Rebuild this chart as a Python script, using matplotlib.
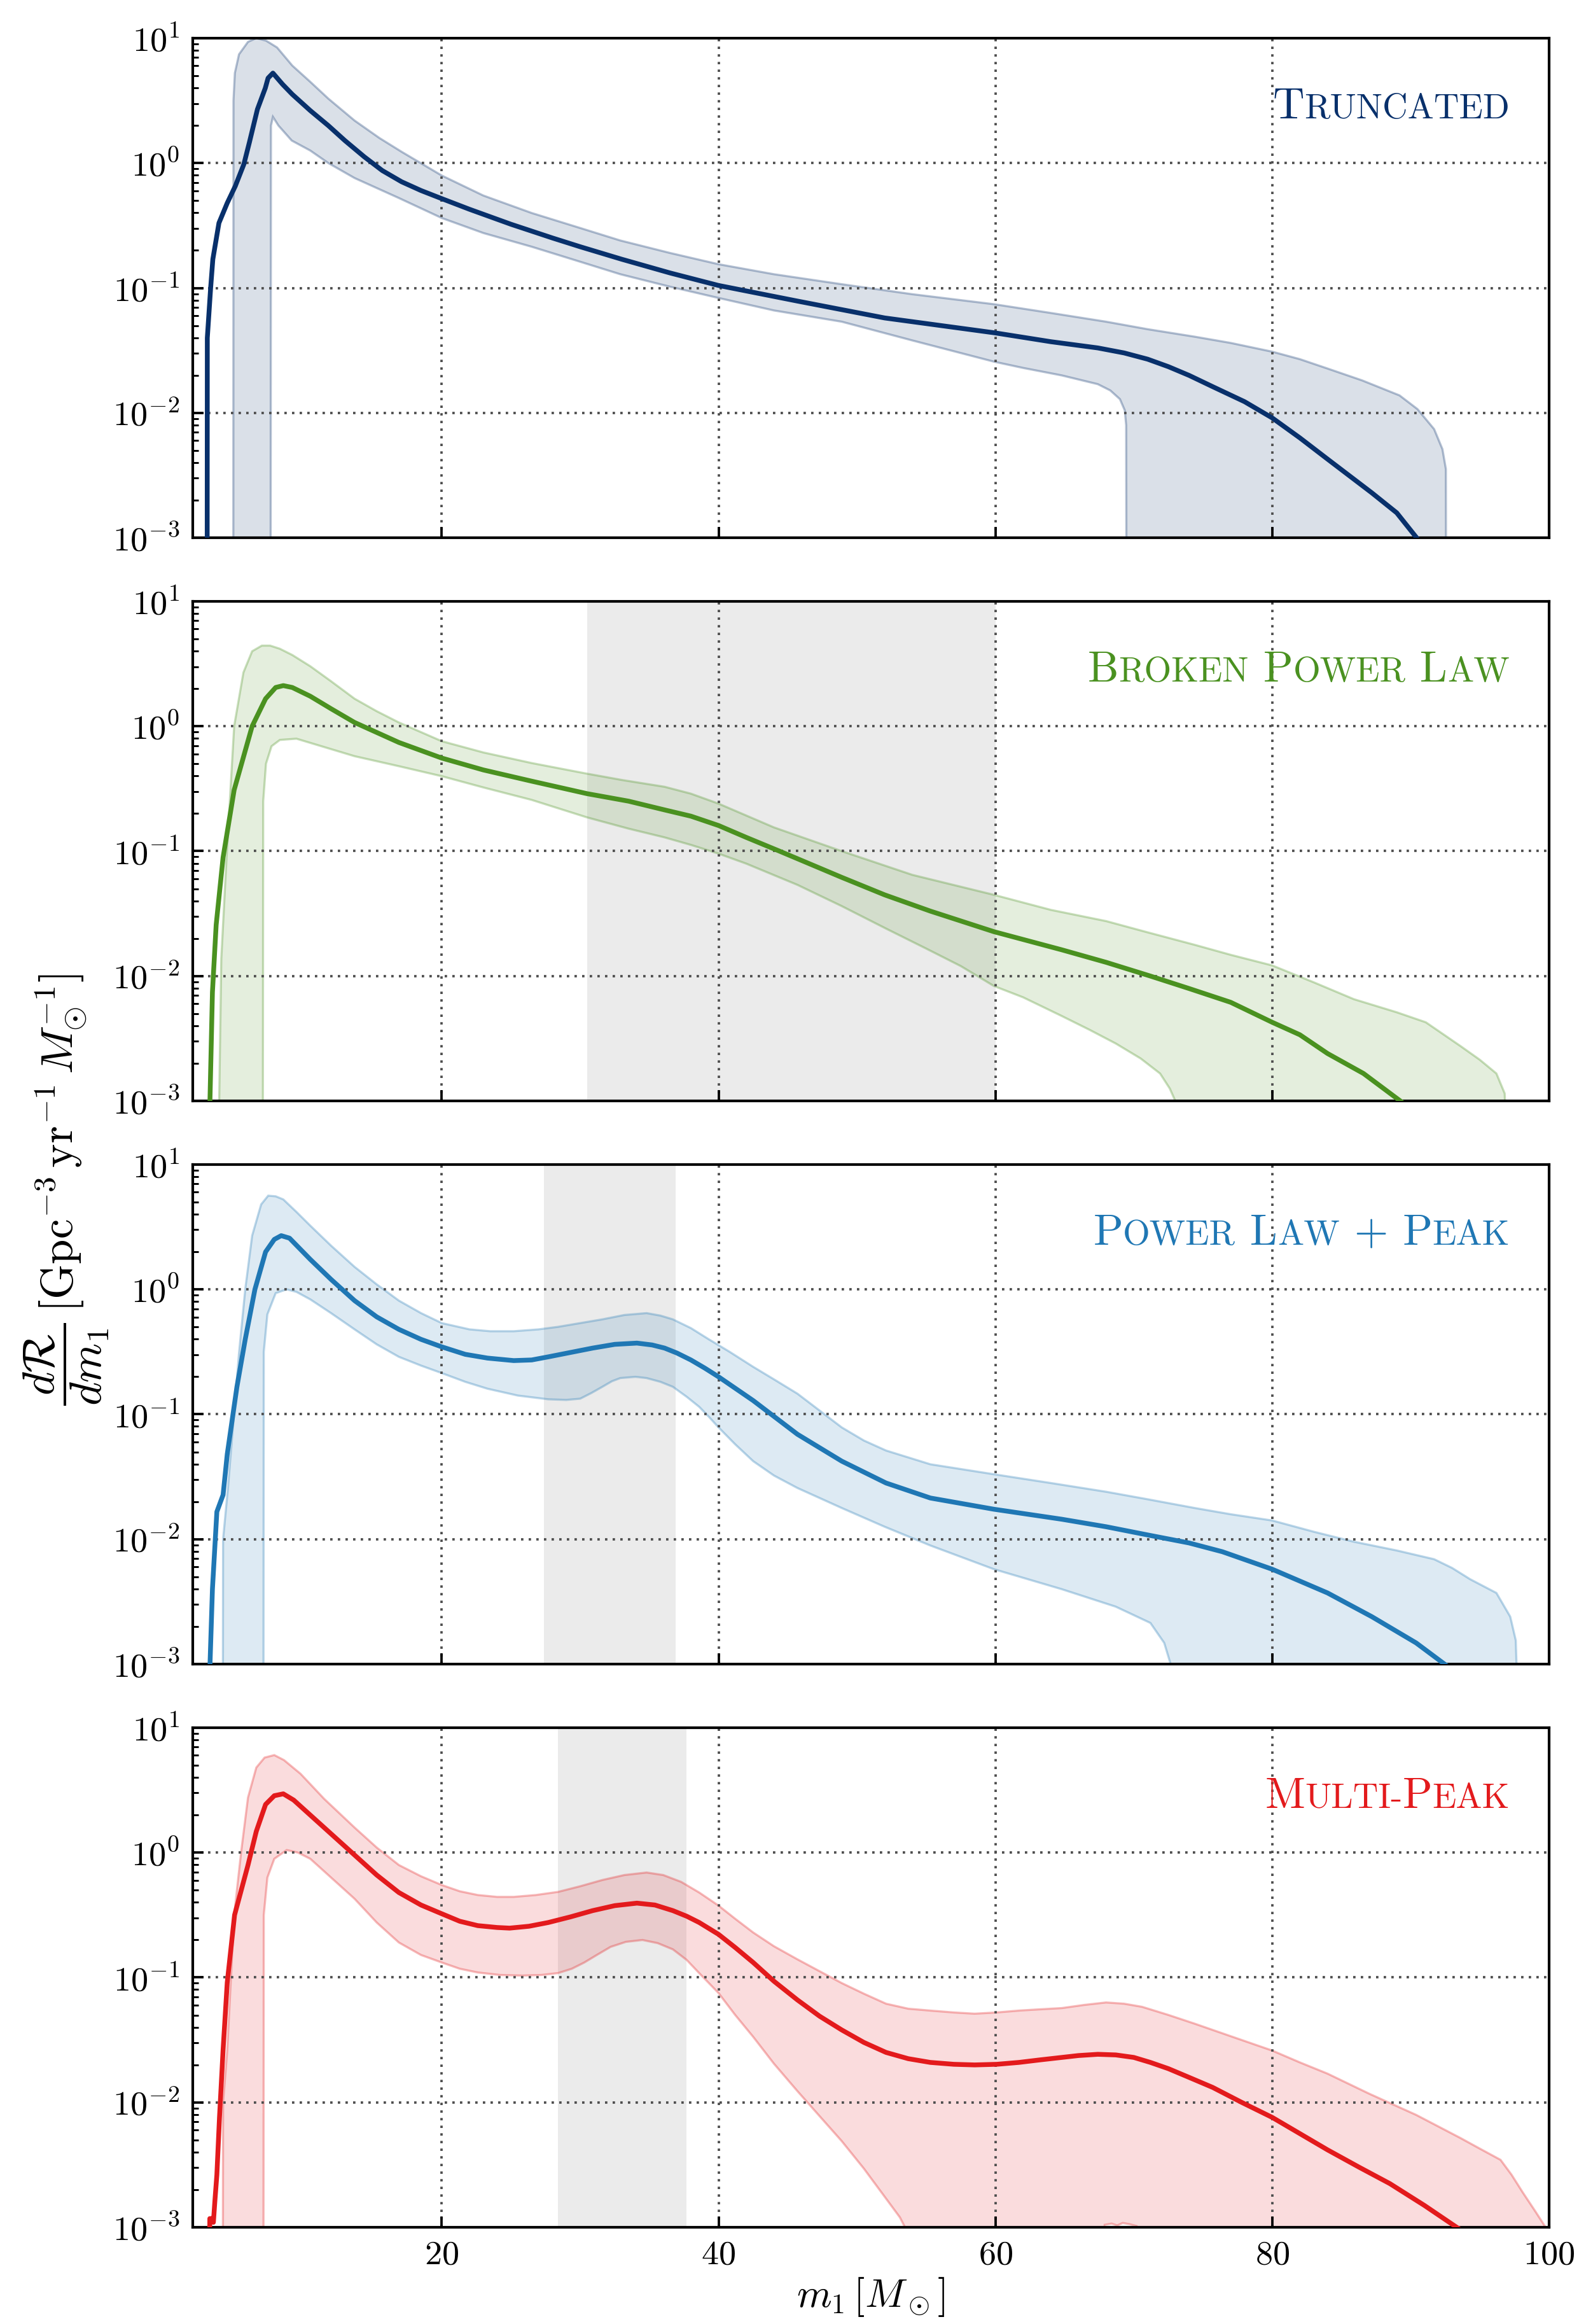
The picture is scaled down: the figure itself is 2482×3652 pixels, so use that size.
import numpy as np
import matplotlib
matplotlib.use("Agg")
import matplotlib.pyplot as plt
from matplotlib.colors import to_rgba
from matplotlib.offsetbox import TextArea, HPacker, AnnotationBbox
from matplotlib.ticker import FixedLocator, LogLocator, NullFormatter

plt.rcParams['mathtext.fontset'] = 'cm'
plt.rcParams['font.family'] = ['cmr10', 'DejaVu Serif']
plt.rcParams['axes.formatter.use_mathtext'] = True

# ---------------- data (x in Msun, values stored as log10 of dR/dm1) ----------------
# Truncated
trunc_med_x = [3.05, 3.06, 3.3, 3.46, 3.9, 4.5, 5.08, 5.7, 6.1, 6.68, 7.25, 7.45, 7.8, 8.5, 9.2, 10.5, 11.8, 13.0,
               14.4, 15.7, 17.1, 18.5, 20.0, 22.0, 25.0, 28.0, 30.0, 33.0, 36.5, 40.0, 45.7, 52.0, 56.0, 60.0, 64.0,
               67.4, 69.3, 71.0, 72.5, 74.0, 75.7, 78.0, 80.0, 82.0, 84.0, 87.2, 89.0, 90.8]
trunc_med = [-3.2, -1.40, -1.0, -0.77, -0.48, -0.32, -0.185, -0.01, 0.165, 0.43, 0.60, 0.68, 0.72, 0.63, 0.55, 0.42,
             0.30, 0.18, 0.05, -0.06, -0.15, -0.22, -0.285, -0.37, -0.49, -0.60, -0.67, -0.77, -0.88, -0.98,
             -1.105, -1.24, -1.30, -1.36, -1.43, -1.48, -1.52, -1.57, -1.63, -1.70, -1.79, -1.91, -2.04, -2.20,
             -2.37, -2.64, -2.80, -3.05]
trunc_hi_x = [4.93, 4.95, 5.05, 5.35, 6.0, 6.6, 7.3, 8.1, 9.2, 10.5, 11.8, 13.7, 15.5, 17.1, 20.0, 23.0, 26.5, 30.0,
              32.9, 36.5, 40.0, 44.0, 48.9, 54.0, 59.9, 64.0, 68.0, 71.0, 74.4, 77.0, 80.0, 82.0, 84.0, 86.5, 89.2,
              90.5, 91.7, 92.3, 92.55, 92.6]
trunc_hi = [-6, 0.5, 0.72, 0.87, 0.97, 1.0, 0.98, 0.925, 0.78, 0.65, 0.516, 0.34, 0.20, 0.09, -0.10, -0.26, -0.40,
            -0.52, -0.62, -0.72, -0.81, -0.89, -0.97, -1.05, -1.13, -1.20, -1.27, -1.33, -1.39, -1.44, -1.51, -1.57,
            -1.645, -1.74, -1.86, -1.97, -2.13, -2.29, -2.45, -6]
trunc_lo_x = [7.62, 7.66, 7.8, 8.2, 9.16, 10.5, 11.8, 13.7, 16.9, 20.0, 23.0, 26.5, 30.0, 32.9, 36.5, 40.0, 44.0, 48.9,
              54.0, 59.9, 62.0, 64.8, 67.4, 68.3, 69.0, 69.35, 69.45, 69.5]
trunc_lo = [-6, 0.30, 0.37, 0.30, 0.18, 0.10, 0.0, -0.12, -0.28, -0.44, -0.56, -0.67, -0.79, -0.89, -0.99, -1.08,
            -1.18, -1.27, -1.42, -1.59, -1.64, -1.70, -1.77, -1.82, -1.89, -1.98, -2.10, -6]

# Broken power law
bpl_med_x = [3.24, 3.43, 3.7, 4.2, 5.0, 6.3, 7.27, 8.0, 8.55, 9.2, 10.5, 12.0, 13.7, 15.3, 16.9, 20.0, 23.0, 26.5,
             30.5, 33.5, 36.1, 38.0, 40.0, 42.0, 44.4, 48.9, 52.0, 55.3, 59.9, 64.8, 68.0, 71.2, 74.0, 77.0, 80.0,
             82.0, 84.0, 86.6, 89.5]
bpl_med = [-3.05, -2.13, -1.59, -1.05, -0.51, 0.0, 0.22, 0.31, 0.325, 0.31, 0.24, 0.14, 0.03, -0.05, -0.13, -0.255,
           -0.35, -0.44, -0.54, -0.60, -0.67, -0.72, -0.795, -0.89, -1.0, -1.21, -1.35, -1.48, -1.645, -1.79, -1.89,
           -2.0, -2.1, -2.21, -2.37, -2.47, -2.62, -2.78, -3.02]
bpl_hi_x = [3.85, 4.07, 4.45, 5.0, 5.67, 6.3, 7.0, 7.6, 8.3, 9.2, 10.5, 12.0, 13.7, 15.3, 16.9, 20.0, 23.0, 26.5,
            30.5, 33.0, 36.1, 38.0, 40.0, 44.0, 48.9, 54.0, 59.9, 64.0, 68.0, 71.0, 74.4, 77.0, 80.0, 83.0, 85.9,
            89.0, 91.1, 93.6, 95.0, 96.2, 96.8, 97.0]
bpl_hi = [-3.5, -1.86, -1.05, 0.0, 0.43, 0.6, 0.645, 0.645, 0.62, 0.57, 0.48, 0.36, 0.22, 0.12, 0.03, -0.12, -0.21,
          -0.295, -0.38, -0.43, -0.485, -0.54, -0.62, -0.81, -1.0, -1.19, -1.35, -1.47, -1.56, -1.65, -1.75, -1.83,
          -1.915, -2.05, -2.185, -2.29, -2.37, -2.56, -2.67, -2.78, -2.94, -3.5]
bpl_lo_x = [7.05, 7.1, 7.3, 7.7, 8.3, 9.5, 11.0, 13.7, 16.9, 20.0, 23.0, 26.5, 30.5, 33.5, 36.1, 38.0, 40.0, 42.0,
            45.7, 48.9, 52.1, 55.0, 57.5, 59.9, 62.0, 64.8, 66.8, 68.7, 70.5, 71.9, 72.6, 73.2, 73.3]
bpl_lo = [-6, -0.6, -0.3, -0.16, -0.11, -0.10, -0.15, -0.24, -0.32, -0.40, -0.49, -0.59, -0.73, -0.82, -0.89, -0.95,
          -1.02, -1.10, -1.27, -1.44, -1.62, -1.78, -1.92, -2.08, -2.17, -2.32, -2.43, -2.54, -2.66, -2.78, -2.9,
          -3.05, -6]

# Power law + peak
plp_med_x = [3.24, 3.43, 3.75, 4.2, 4.5, 5.2, 5.8, 6.5, 7.27, 7.9, 8.4, 9.0, 10.5, 12.0, 13.7, 15.3, 16.9, 18.5,
             20.0, 21.7, 23.3, 25.2, 26.5, 27.7, 29.3, 30.9, 32.5, 34.1, 35.2, 36.1, 37.0, 38.0, 39.0, 40.0, 42.5,
             45.7, 48.9, 52.1, 55.3, 59.9, 64.8, 68.0, 71.2, 74.0, 76.4, 80.0, 84.0, 87.2, 90.4, 92.7]
plp_med = [-3.05, -2.4, -1.78, -1.645, -1.32, -0.78, -0.40, 0.0, 0.30, 0.40, 0.43, 0.41, 0.24, 0.08, -0.09, -0.22,
           -0.32, -0.40, -0.46, -0.52, -0.55, -0.57, -0.565, -0.54, -0.505, -0.47, -0.44, -0.43, -0.445, -0.47,
           -0.51, -0.565, -0.63, -0.70, -0.89, -1.16, -1.375, -1.55, -1.67, -1.76, -1.84, -1.90, -1.97, -2.03,
           -2.10, -2.24, -2.43, -2.62, -2.83, -3.02]
plp_hi_x = [4.15, 4.2, 4.55, 5.35, 5.8, 6.3, 6.95, 7.46, 8.0, 8.55, 9.5, 10.5, 12.0, 13.7, 15.3, 16.9, 18.5, 20.0,
            22.0, 23.5, 25.2, 27.0, 28.4, 30.0, 31.6, 33.2, 34.8, 35.8, 36.7, 38.0, 39.3, 40.8, 42.5, 44.0, 45.7,
            47.3, 48.9, 50.5, 52.1, 55.3, 59.9, 64.0, 68.0, 71.0, 74.4, 77.0, 80.0, 83.0, 85.9, 89.0, 91.7, 93.0,
            94.3, 96.2, 97.2, 97.6, 97.8]
plp_hi = [-6, -2.0, -1.59, -0.51, 0.0, 0.43, 0.68, 0.75, 0.745, 0.72, 0.62, 0.51, 0.35, 0.18, 0.04, -0.09, -0.19,
          -0.27, -0.32, -0.335, -0.335, -0.32, -0.30, -0.27, -0.24, -0.205, -0.19, -0.21, -0.24, -0.31, -0.40,
          -0.50, -0.62, -0.72, -0.835, -0.97, -1.105, -1.21, -1.29, -1.40, -1.48, -1.55, -1.62, -1.68, -1.75,
          -1.80, -1.85, -1.94, -2.02, -2.09, -2.16, -2.23, -2.32, -2.43, -2.62, -2.81, -3.5]
plp_lo_x = [7.1, 7.14, 7.4, 8.0, 8.8, 9.5, 10.5, 12.0, 13.7, 15.3, 16.9, 18.5, 20.0, 21.7, 23.3, 25.5, 27.7, 29.0,
            30.0, 30.8, 31.6, 32.3, 32.9, 34.0, 34.8, 35.8, 36.7, 37.7, 38.6, 39.3, 40.0, 41.2, 42.5, 44.0, 45.7,
            48.9, 52.0, 55.3, 59.9, 64.8, 68.7, 71.2, 72.2, 72.8, 72.9]
plp_lo = [-6, -0.5, -0.2, -0.03, 0.0, -0.02, -0.08, -0.19, -0.32, -0.44, -0.54, -0.61, -0.67, -0.74, -0.795, -0.85,
          -0.88, -0.885, -0.875, -0.83, -0.78, -0.735, -0.71, -0.70, -0.71, -0.74, -0.78, -0.86, -0.94, -1.02,
          -1.105, -1.24, -1.375, -1.49, -1.59, -1.75, -1.90, -2.05, -2.24, -2.40, -2.54, -2.67, -2.83, -3.05, -6]

# Multi-peak
mp_med_x = [3.22, 3.24, 3.35, 3.5, 3.6, 3.75, 3.94, 4.2, 4.5, 5.03, 6.0, 6.6, 7.27, 7.9, 8.55, 9.3, 10.5, 12.0, 13.7,
            15.3, 16.9, 18.5, 20.0, 21.3, 22.6, 24.0, 24.9, 26.3, 27.7, 29.3, 30.9, 32.5, 34.1, 35.4, 36.7, 37.7,
            38.6, 40.0, 41.2, 42.5, 44.0, 45.7, 47.3, 48.9, 50.5, 52.1, 53.7, 55.3, 57.0, 58.5, 60.1, 61.7, 63.2,
            64.8, 66.0, 67.4, 68.7, 70.0, 71.2, 72.5, 74.0, 75.7, 77.8, 80.0, 82.0, 84.0, 86.3, 88.5, 91.0, 93.6]
mp_med = [-3.3, -2.93, -2.93, -2.96, -2.8, -2.58, -2.12, -1.58, -1.04, -0.5, -0.1, 0.17, 0.385, 0.455, 0.47, 0.42,
          0.30, 0.15, -0.02, -0.18, -0.32, -0.42, -0.49, -0.55, -0.585, -0.60, -0.605, -0.59, -0.56, -0.515, -0.465,
          -0.425, -0.405, -0.42, -0.465, -0.51, -0.56, -0.655, -0.76, -0.88, -1.03, -1.18, -1.31, -1.42, -1.52,
          -1.60, -1.65, -1.68, -1.695, -1.70, -1.695, -1.68, -1.66, -1.64, -1.625, -1.615, -1.62, -1.64, -1.68,
          -1.73, -1.80, -1.88, -2.0, -2.12, -2.25, -2.38, -2.52, -2.65, -2.825, -3.02]
mp_hi_x = [4.15, 4.2, 4.5, 5.0, 5.5, 6.0, 6.6, 7.2, 7.9, 8.6, 9.8, 11.5, 13.7, 15.3, 16.9, 18.5, 20.0, 21.3, 22.6,
           24.0, 25.2, 26.8, 28.4, 30.0, 31.6, 33.2, 34.8, 36.0, 37.3, 38.6, 40.0, 41.2, 42.5, 44.0, 45.7, 47.3,
           48.9, 50.5, 52.1, 53.7, 55.3, 57.0, 58.5, 60.1, 61.7, 63.2, 64.8, 66.4, 68.0, 69.3, 70.6, 72.5, 74.4,
           77.0, 80.0, 82.0, 84.0, 87.0, 90.4, 93.6, 95.0, 96.5, 97.3, 98.1, 99.0, 99.7, 99.9]
mp_hi = [-6, -2.0, -1.58, -0.5, 0.0, 0.44, 0.68, 0.76, 0.78, 0.74, 0.63, 0.43, 0.20, 0.04, -0.10, -0.19, -0.26, -0.31,
         -0.34, -0.355, -0.355, -0.34, -0.315, -0.27, -0.22, -0.18, -0.16, -0.18, -0.235, -0.32, -0.425, -0.53,
         -0.64, -0.75, -0.855, -0.95, -1.045, -1.13, -1.21, -1.25, -1.265, -1.28, -1.29, -1.28, -1.265, -1.255,
         -1.245, -1.22, -1.20, -1.21, -1.235, -1.30, -1.37, -1.47, -1.585, -1.68, -1.77, -1.93, -2.10, -2.285,
         -2.37, -2.46, -2.58, -2.72, -2.87, -2.99, -3.3]
mp_lo_x = [7.1, 7.14, 7.4, 7.9, 8.8, 9.6, 10.5, 12.0, 13.7, 15.3, 16.9, 18.5, 20.0, 21.3, 22.6, 24.2, 25.8, 27.2,
           28.4, 29.4, 30.3, 31.2, 32.2, 33.3, 34.5, 35.6, 36.7, 37.7, 38.6, 40.0, 41.2, 42.5, 44.0, 45.7, 47.3,
           48.9, 50.5, 52.1, 53.1, 53.7, 54.0, 67.6, 67.9, 68.4, 68.8, 69.2, 69.7, 70.2, 70.5, 99.9]
mp_lo = [-6, -0.5, -0.2, -0.05, 0.02, 0.0, -0.05, -0.2, -0.37, -0.56, -0.72, -0.82, -0.88, -0.93, -0.96, -0.98,
         -0.985, -0.98, -0.965, -0.93, -0.88, -0.82, -0.755, -0.715, -0.70, -0.725, -0.775, -0.86, -0.965, -1.125,
         -1.30, -1.475, -1.69, -1.91, -2.11, -2.31, -2.53, -2.77, -2.92, -3.05, -6, -6, -2.98, -2.97, -2.985,
         -2.965, -2.975, -2.99, -6, -6]

# shaded gray ranges
bpl_span = (30.5, 60.0)
plp_span = (27.4, 36.9)
mp_span = (28.4, 37.7)

panels = [
    dict(name=[("T", True), ("RUNCATED", False)], color="#08306b",
         med=(trunc_med_x, trunc_med), hi=(trunc_hi_x, trunc_hi), lo=(trunc_lo_x, trunc_lo), span=None),
    dict(name=[("B", True), ("ROKEN", False), (" P", True), ("OWER", False), (" L", True), ("AW", False)],
         color="#4a9120",
         med=(bpl_med_x, bpl_med), hi=(bpl_hi_x, bpl_hi), lo=(bpl_lo_x, bpl_lo), span=bpl_span),
    dict(name=[("P", True), ("OWER", False), (" L", True), ("AW", False), (" + P", True), ("EAK", False)],
         color="#1f77b4",
         med=(plp_med_x, plp_med), hi=(plp_hi_x, plp_hi), lo=(plp_lo_x, plp_lo), span=plp_span),
    dict(name=[("M", True), ("ULTI-", False), ("P", True), ("EAK", False)], color="#e31a1c",
         med=(mp_med_x, mp_med), hi=(mp_hi_x, mp_hi), lo=(mp_lo_x, mp_lo), span=mp_span),
]

W, H = 2482, 3652
fig = plt.figure(figsize=(W / 300, H / 300), dpi=300)
gs = fig.add_gridspec(4, 1, left=0.122, right=0.981, top=0.9836, bottom=0.0416, hspace=0.127)

for i, p in enumerate(panels):
    ax = fig.add_subplot(gs[i])
    ax.set_yscale("log")
    ax.set_xlim(2, 100)
    ax.set_ylim(1e-3, 1e1)
    c = p["color"]
    if p["span"] is not None:
        ax.axvspan(p["span"][0], p["span"][1], color="k", alpha=0.08, lw=0, zorder=0)
    hx, hy = p["hi"]
    lx, ly = p["lo"]
    px = np.concatenate([hx, lx[::-1]])
    py = 10.0 ** np.concatenate([hy, ly[::-1]])
    ax.fill(px, py, facecolor=to_rgba(c, 0.15), edgecolor=to_rgba(c, 0.3), lw=0.8, zorder=1)
    mx, my = p["med"]
    ax.plot(mx, 10.0 ** np.asarray(my), color=c, lw=1.8, zorder=3, solid_joinstyle="round")

    ax.grid(True, which="major", color="0.3", linestyle=(0, (1, 2.2)), lw=0.9)
    ax.set_axisbelow("line")
    ax.xaxis.set_major_locator(FixedLocator([20, 40, 60, 80, 100]))
    ax.yaxis.set_major_locator(FixedLocator([1e-3, 1e-2, 1e-1, 1e0, 1e1]))
    ax.yaxis.set_minor_locator(LogLocator(base=10, subs=np.arange(2, 10), numticks=20))
    ax.yaxis.set_minor_formatter(NullFormatter())
    ax.set_yticklabels([r"$10^{-3}$", r"$10^{-2}$", r"$10^{-1}$", r"$10^{0}$", r"$10^{1}$"])
    if i == 3:
        ax.set_xticklabels([r"$20$", r"$40$", r"$60$", r"$80$", r"$100$"])
        ax.set_xlabel(r"$m_1\,[M_\odot]$", fontsize=15, labelpad=2)
    else:
        ax.set_xticklabels([])
    ax.tick_params(axis="both", which="major", direction="in", length=4, width=0.9, labelsize=13,
                   top=False, right=False, pad=5)
    ax.tick_params(axis="y", which="minor", direction="in", length=2.2, width=0.7, right=False)
    for s in ax.spines.values():
        s.set_linewidth(1.0)

    parts = []
    for txt, big in p["name"]:
        parts.append(TextArea(txt, textprops=dict(color=c, fontsize=16.5 if big else 13.2,
                                                  family="cmr10")))
    box = HPacker(children=parts, align="baseline", pad=0, sep=0)
    ab = AnnotationBbox(box, (0.971, 0.862), xycoords="axes fraction", box_alignment=(1, 0.5),
                        frameon=False, pad=0)
    ax.add_artist(ab)

fig.text(0.042, 0.488,
         r"$\dfrac{d\mathcal{R}}{dm_1}\,[\mathrm{Gpc}^{-3}\,\mathrm{yr}^{-1}\,M_{\odot}^{-1}]$",
         rotation=90, ha="center", va="center", fontsize=17)

fig.savefig("out.png", dpi=300)
